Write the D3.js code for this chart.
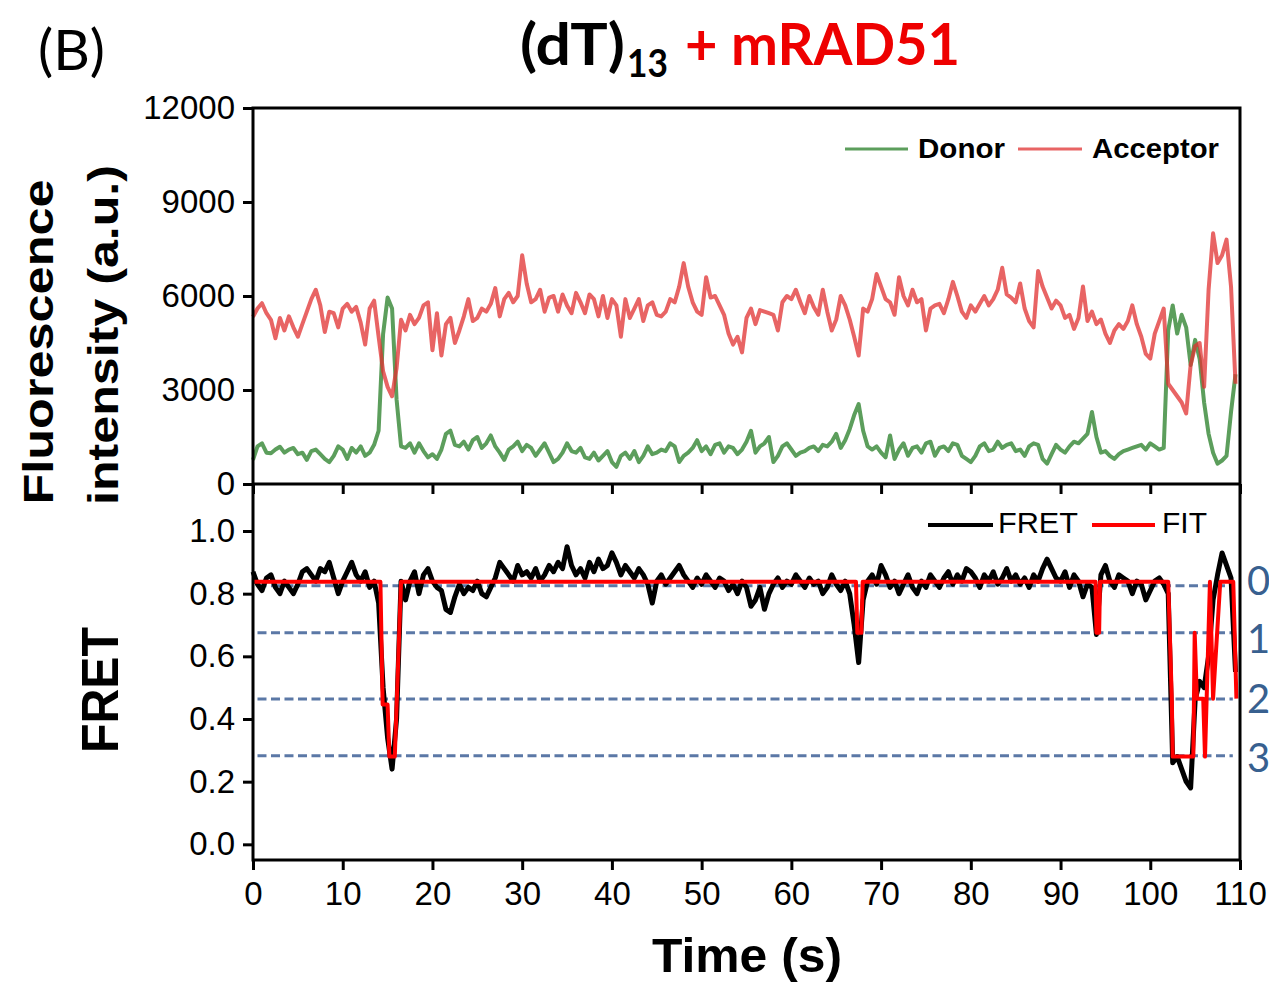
<!DOCTYPE html>
<html>
<head>
<meta charset="utf-8">
<script src="https://cdn.jsdelivr.net/npm/d3@7"></script>
<style>
  body { margin: 0; background: #fff; }
  svg { display: block; background: #fff; }
</style>
</head>
<body>
<div id="chart"></div>
<script>

// frame spacing of the trace arrays below (s)
var frameStep = 0.5;

// donor intensity (a.u.), one value every 0.5 s from t = 0
var donor = [
  770,1200,1300,1000,980,1100,1190,1000,1100,1150,
  950,1000,770,1050,1100,950,800,700,900,1200,
  1100,800,1150,1000,1200,900,1000,1250,1700,4790,
  5950,5600,2700,1200,1150,1300,1000,1300,1050,850,
  950,800,1100,1600,1700,1250,1200,1350,1100,1400,
  1500,1150,1300,1550,1200,1000,770,1100,1200,1350,
  1050,1250,1150,900,1100,1300,1000,700,800,1000,
  1300,1050,1000,1150,850,800,1000,750,900,1050,
  700,550,900,1000,800,1050,700,900,1200,950,
  1000,1100,1050,1300,1200,700,900,1000,1150,1400,
  1050,1200,950,1250,1300,1000,1200,1150,950,1100,
  1350,1700,1000,1200,1300,1500,700,900,1200,1300,
  1100,900,1000,1050,1150,1200,1050,1250,1200,1350,
  1600,1150,1400,1750,2200,2550,1700,1200,1100,1200,
  1000,850,1550,800,1100,1300,900,1150,1200,1000,
  1300,1350,900,1150,1200,1050,1300,1250,900,800,
  700,900,1200,1300,1050,1100,1350,1150,1250,1300,
  1050,1100,900,1200,1300,1250,800,650,950,1250,
  1100,1000,1200,1350,1300,1450,1600,2300,1500,1000,
  1050,900,800,950,1050,1100,1150,1200,1250,1100,
  1300,1200,1100,1150,4900,5700,4800,5400,5000,3800,
  4600,4000,2600,1600,1000,650,750,900,2300,3500
];

// acceptor intensity (a.u.), same frames
var acceptor = [
  5340,5600,5770,5450,5240,4650,5300,4900,5350,5000,
  4700,5100,5500,5900,6200,5700,4850,5500,5450,5000,
  5600,5750,5500,5650,5150,4450,5600,5850,4700,3600,
  3100,2800,3700,5240,4900,5400,5100,5300,5700,5800,
  4270,5450,4100,5100,5300,4500,4900,5350,5900,5200,
  5300,5600,5500,5750,6250,5350,5900,6100,5800,6000,
  7300,6400,5800,5900,6200,5500,5950,6000,5500,6050,
  5700,5450,6100,5800,5450,6050,5900,5350,6000,5300,
  5900,5700,4700,5900,5300,5600,5900,5200,5700,5800,
  5400,5350,5500,5900,5800,6300,7050,6300,5800,5500,
  5400,6600,5950,6000,5700,5400,4800,4450,4700,4200,
  5300,5600,5100,5550,5500,5450,5400,4900,5800,6000,
  5900,6200,5800,5450,6000,5650,5400,6200,5500,4900,
  5250,6000,5700,5250,4700,4100,5600,5500,5900,6700,
  6300,5900,5800,5400,6600,6000,5700,6200,5800,5900,
  4900,5600,5700,5750,5450,5900,6450,6000,5500,5300,
  5700,5500,5750,6000,5700,5900,6200,6900,6050,5950,
  5800,6400,5600,5200,5000,6800,6300,5950,5600,5850,
  5700,5300,5400,4950,5300,6300,5200,5500,5100,5250,
  4800,4500,4900,5100,4950,5200,5700,5100,4700,4150,
  4000,4800,5200,5600,3200,3000,2800,2600,2250,3800,
  4400,4500,3100,6200,8000,7050,7300,7800,6300,3200
];

// FRET efficiency, same frames
var fret = [
  .87,.83,.81,.85,.86,.82,.80,.84,.82,.80,
  .83,.87,.88,.86,.84,.88,.87,.90,.85,.80,
  .84,.87,.90,.86,.84,.87,.82,.84,.77,.50,
  .34,.24,.40,.84,.78,.84,.87,.80,.86,.88,
  .84,.82,.81,.75,.74,.79,.83,.80,.82,.81,
  .84,.80,.79,.82,.85,.90,.88,.86,.84,.89,
  .86,.87,.85,.88,.84,.86,.89,.87,.90,.88,
  .95,.89,.86,.88,.85,.90,.87,.91,.88,.89,
  .93,.90,.86,.89,.87,.85,.88,.86,.83,.77,
  .84,.86,.83,.85,.87,.89,.86,.84,.82,.85,
  .83,.86,.84,.82,.85,.84,.81,.83,.80,.84,
  .82,.76,.78,.82,.75,.80,.83,.85,.82,.84,
  .83,.86,.84,.82,.85,.83,.84,.80,.82,.86,
  .83,.81,.84,.80,.70,.58,.78,.84,.86,.83,
  .89,.86,.82,.84,.80,.83,.86,.82,.80,.84,
  .82,.86,.84,.82,.85,.87,.83,.86,.84,.88,
  .87,.85,.82,.86,.84,.87,.83,.85,.88,.84,
  .86,.83,.85,.82,.86,.84,.88,.91,.88,.85,
  .84,.87,.82,.86,.84,.79,.83,.82,.67,.86,
  .89,.84,.82,.86,.85,.84,.80,.84,.83,.78,
  .81,.84,.85,.83,.80,.26,.28,.24,.20,.18,
  .46,.52,.50,.60,.78,.86,.93,.89,.85,.55
];

// step fit, corner points
var fitTime  = [0, 14.2, 14.45, 15.0, 15.2, 15.8, 16.5, 67.2, 67.35, 67.8, 67.95,
                93.9, 94.0, 94.3, 94.4, 102.0, 102.4, 102.5, 104.8, 104.95, 105.2,
                105.9, 106.1, 106.65, 107.0, 107.8, 109.25, 109.6];
var fitValue = [0.838, 0.838, 0.446, 0.446, 0.28, 0.28, 0.838, 0.838, 0.675, 0.675, 0.838,
                0.838, 0.675, 0.675, 0.838, 0.838, 0.465, 0.28, 0.28, 0.675, 0.465,
                0.465, 0.28, 0.838, 0.465, 0.838, 0.838, 0.465];

// bound-state levels (dashed) and their labels
var stateLevels = [0.825, 0.675, 0.464, 0.283];
var stateLabels = ["0", "1", "2", "3"];

var timeTicks = [0, 10, 20, 30, 40, 50, 60, 70, 80, 90, 100, 110];
var intensityTicks = [0, 3000, 6000, 9000, 12000];
var fretTicks = [0, 0.2, 0.4, 0.6, 0.8, 1.0];

var svgWidth = 1269;
var svgHeight = 983;

var plot = { left: 253, right: 1240, top: 108, mid: 484, bottom: 860 };

var sansFont = '"Liberation Sans", Arial, sans-serif';
var titleFont = 'Lato, "Open Sans", sans-serif';

var svg = d3.select("#chart")
  .append("svg")
  .attr("width", svgWidth)
  .attr("height", svgHeight);

//scales
var xScale = d3.scaleLinear().domain([0, 110]).range([plot.left, plot.right]);
var yInt = d3.scaleLinear().domain([0, 12000]).range([plot.mid, plot.top]);
var yFret = d3.scaleLinear().domain([-0.05, 1.15]).range([plot.bottom, plot.mid]);

function styleAxis(g) {
  g.select(".domain").remove();
  g.selectAll(".tick line").attr("stroke", "#000").attr("stroke-width", 3);
  g.selectAll(".tick text")
    .attr("font-family", sansFont)
    .attr("font-size", 33)
    .attr("fill", "#000");
}

//dashed state levels
svg.append("g")
  .selectAll("line")
  .data(stateLevels)
  .enter()
  .append("line")
  .attr("x1", xScale(0.5))
  .attr("x2", xScale(109.2))
  .attr("y1", d => yFret(d))
  .attr("y2", d => yFret(d))
  .attr("stroke", "#5b78a6")
  .attr("stroke-width", 3)
  .attr("stroke-dasharray", "9,4.5");

//intensity traces
var intLine = d3.line()
  .x((d, i) => xScale(i * frameStep))
  .y(d => yInt(d));

svg.append("path")
  .datum(donor)
  .attr("fill", "none")
  .attr("stroke", "#5c9e5c")
  .attr("stroke-width", 4)
  .attr("stroke-linejoin", "round")
  .attr("d", intLine);

svg.append("path")
  .datum(acceptor)
  .attr("fill", "none")
  .attr("stroke", "#e03030")
  .attr("stroke-opacity", 0.75)
  .attr("stroke-width", 4)
  .attr("stroke-linejoin", "round")
  .attr("d", intLine);

//FRET trace + fit
var fretLine = d3.line()
  .x((d, i) => xScale(i * frameStep))
  .y(d => yFret(d));

svg.append("path")
  .datum(fret)
  .attr("fill", "none")
  .attr("stroke", "#000")
  .attr("stroke-width", 5)
  .attr("stroke-linejoin", "round")
  .attr("d", fretLine);

var fitLine = d3.line()
  .x(d => xScale(d[0]))
  .y(d => yFret(d[1]));

svg.append("path")
  .datum(fitTime.map((t, i) => [t, fitValue[i]]))
  .attr("fill", "none")
  .attr("stroke", "#ff0000")
  .attr("stroke-width", 4)
  .attr("stroke-linejoin", "round")
  .attr("d", fitLine);

//frame
svg.append("rect")
  .attr("x", plot.left)
  .attr("y", plot.top)
  .attr("width", plot.right - plot.left)
  .attr("height", plot.bottom - plot.top)
  .attr("fill", "none")
  .attr("stroke", "#000")
  .attr("stroke-width", 3);

svg.append("line")
  .attr("x1", plot.left).attr("x2", plot.right)
  .attr("y1", plot.mid).attr("y2", plot.mid)
  .attr("stroke", "#000")
  .attr("stroke-width", 3);

//axes
svg.append("g")
  .attr("transform", `translate(${plot.left},0)`)
  .call(d3.axisLeft(yInt).tickValues(intensityTicks).tickSize(10).tickPadding(8).tickFormat(d3.format("d")))
  .call(styleAxis);

svg.append("g")
  .attr("transform", `translate(${plot.left},0)`)
  .call(d3.axisLeft(yFret).tickValues(fretTicks).tickSize(10).tickPadding(8).tickFormat(d3.format(".1f")))
  .call(styleAxis);

svg.append("g")
  .attr("transform", `translate(0,${plot.mid})`)
  .call(d3.axisBottom(xScale).tickValues(timeTicks).tickSize(10).tickFormat(""))
  .call(styleAxis);

svg.append("g")
  .attr("transform", `translate(0,${plot.bottom})`)
  .call(d3.axisBottom(xScale).tickValues(timeTicks).tickSize(10).tickPadding(12))
  .call(styleAxis);

//axis titles
function vLabel(text, bx, cy, size, len) {
  svg.append("text")
    .attr("transform", `translate(${bx},${cy}) rotate(-90)`)
    .attr("text-anchor", "middle")
    .attr("font-family", sansFont)
    .attr("font-weight", "bold")
    .attr("font-size", size)
    .attr("textLength", len)
    .attr("lengthAdjust", "spacingAndGlyphs")
    .text(text);
}
vLabel("Fluorescence", 53, 342, 42, 325);
vLabel("intensity (a.u.)", 118, 335, 42, 340);
vLabel("FRET", 118, 690, 52, 126);

svg.append("text")
  .attr("x", 747)
  .attr("y", 972)
  .attr("text-anchor", "middle")
  .attr("font-family", sansFont)
  .attr("font-weight", "bold")
  .attr("font-size", 48)
  .attr("textLength", 190)
  .attr("lengthAdjust", "spacingAndGlyphs")
  .text("Time (s)");

//titles
svg.append("text")
  .attr("x", 38).attr("y", 70)
  .attr("font-family", titleFont)
  .attr("font-size", 56)
  .attr("textLength", 67)
  .attr("lengthAdjust", "spacingAndGlyphs")
  .text("(B)");

svg.append("text")
  .attr("x", 520).attr("y", 65)
  .attr("font-family", titleFont)
  .attr("font-weight", "bold")
  .attr("font-size", 57)
  .attr("textLength", 105)
  .attr("lengthAdjust", "spacingAndGlyphs")
  .text("(dT)");

svg.append("text")
  .attr("x", 627).attr("y", 77)
  .attr("font-family", titleFont)
  .attr("font-weight", "bold")
  .attr("font-size", 38)
  .attr("textLength", 41)
  .attr("lengthAdjust", "spacingAndGlyphs")
  .text("13");

svg.append("text")
  .attr("x", 685).attr("y", 65)
  .attr("font-family", titleFont)
  .attr("font-weight", "bold")
  .attr("font-size", 57)
  .attr("fill", "#ee0000")
  .attr("textLength", 275)
  .attr("lengthAdjust", "spacingAndGlyphs")
  .text("+ mRAD51");

//legends
function legendItem(x1, x2, ly, color, width, label, tx, ty, size, weight, len) {
  svg.append("line")
    .attr("x1", x1).attr("x2", x2)
    .attr("y1", ly).attr("y2", ly)
    .attr("stroke", color)
    .attr("stroke-width", width);
  svg.append("text")
    .attr("x", tx).attr("y", ty)
    .attr("font-family", sansFont)
    .attr("font-weight", weight)
    .attr("font-size", size)
    .attr("textLength", len)
    .attr("lengthAdjust", "spacingAndGlyphs")
    .text(label);
}
legendItem(845, 908, 149, "#5c9e5c", 3, "Donor", 918, 158, 28, "bold", 87);
legendItem(1018, 1082, 149, "#e86464", 3, "Acceptor", 1092, 158, 28, "bold", 127);
legendItem(928, 993, 525, "#000", 4, "FRET", 998, 533, 29, "normal", 80);
legendItem(1092, 1155, 525, "#ff0000", 4, "FIT", 1162, 533, 29, "normal", 45);

//state labels at the right edge
var labelBase = [595, 653, 713, 772];
svg.append("g")
  .selectAll("text")
  .data(stateLabels)
  .enter()
  .append("text")
  .attr("x", 1247)
  .attr("y", (d, i) => labelBase[i])
  .attr("font-family", titleFont)
  .attr("font-size", 40)
  .attr("fill", "#38608f")
  .text(d => d);

</script>
</body>
</html>
